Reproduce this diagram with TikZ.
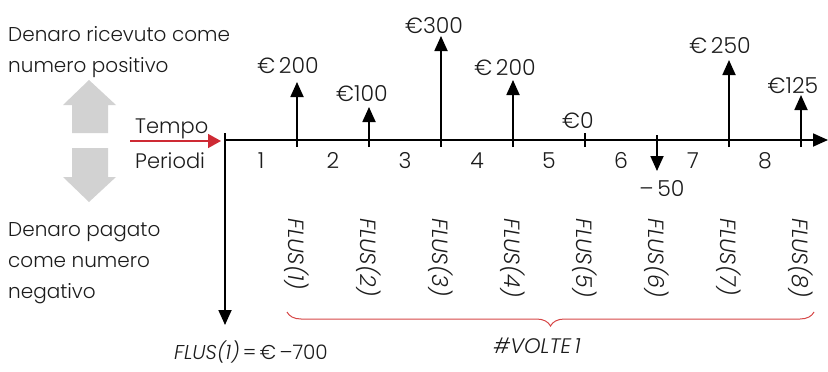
\documentclass[tikz,border=0pt]{standalone}
\usepackage{fontspec}
\setmainfont{Poppins}[UprightFont=* Light,ItalicFont=* Light Italic]
\usetikzlibrary{arrows.meta,positioning,decorations.pathreplacing}
\definecolor{inkblack}{RGB}{28,28,28}
\definecolor{timered}{RGB}{206,42,52}
\definecolor{signgray}{RGB}{210,210,210}
\definecolor{bracered}{RGB}{214,70,70}
\begin{document}
\begin{tikzpicture}[
  x=1pt,y=-1pt,
  font=\fontsize{22}{26}\selectfont,
  text=inkblack,
  axisline/.style={draw=black,line width=1.8pt},
  flow/.style={draw=black,line width=1.8pt,-{Triangle[length=15pt,width=13pt]}},
  timeflow/.style={draw=timered,line width=1.5pt,-{Triangle[length=13pt,width=14pt]}},
  amount/.style={anchor=base,inner sep=0pt},
  period/.style={anchor=base,inner sep=0pt},
  flus/.style={rotate=-90,anchor=west,inner sep=0pt,font=\fontsize{22}{24}\selectfont\itshape},
  sidetext/.style={anchor=north west,align=left,inner sep=0pt,font=\fontsize{20}{31}\selectfont},
  volte/.style={draw=bracered,line width=1pt,decorate,decoration={brace,mirror,amplitude=14pt}}
]
\useasboundingbox (0,0) rectangle (828,372);

% Sign legend on the left.
\node[sidetext] (received) at (8,26) {Denaro ricevuto come\\numero positivo};
\node[sidetext] (paid) at (8,222) {Denaro pagato\\come numero\\negativo};
\fill[signgray] (72,133) -- (72,105) -- (63,105) -- (89,80) -- (116,105) -- (108,105) -- (108,133) -- cycle;
\fill[signgray] (72,148) -- (72,177) -- (63,177) -- (89,202) -- (116,177) -- (108,177) -- (108,148) -- cycle;

% Time arrow.
\node[anchor=base west,inner sep=0pt,font=\fontsize{21}{24}\selectfont] (tempo) at (135,133) {Tempo};
\node[anchor=base west,inner sep=0pt,font=\fontsize{21}{24}\selectfont] (periodi) at (135,168) {Periodi};
\coordinate (tempoin) at (130,141);
\coordinate (tempoout) at (221,141);
\draw[timeflow] (tempoin) -- (tempoout);

% Axis and the initial outlay.
\coordinate (start) at (225,140);
\coordinate (axisend) at (828,140);
\coordinate (starttop) at (225,133);
\coordinate (outlay) at (225,325);
\draw[flow] (start) -- (axisend);
\draw[flow] (starttop) -- (outlay);

% Incoming flows.
\foreach \k/\tipy in {1/82,2/107,3/36,4/80,7/60,8/95}{
  \coordinate (foot\k) at (225+72*\k,147);
  \coordinate (tip\k) at (225+72*\k,\tipy);
  \draw[flow] (foot\k) -- (tip\k);
}
\coordinate (foot5) at (585,147);
\coordinate (tick5) at (585,133);
\draw[axisline] (foot5) -- (tick5);
\coordinate (foot6) at (657,135);
\coordinate (tip6) at (657,171);
\draw[flow] (foot6) -- (tip6);

% Amounts.
\node[amount] (amt1) at (288,73) {€\,200};
\node[amount] (amt2) at (362,101) {€100};
\node[amount] (amt3) at (434,33) {€300};
\node[amount] (amt4) at (505,75) {€\,200};
\node[amount] (amt5) at (578,128) {€0};
\node[amount] (amt6) at (662,196) {–\,50};
\node[amount] (amt7) at (720,53) {€\,250};
\node[amount] (amt8) at (793,93) {€125};

% Period numbers.
\foreach \k in {1,...,8}{
  \node[period] (per\k) at (189+72*\k,168) {\k};
}

% Cash flow names.
\foreach \k in {1,...,8}{
  \node[flus] (flus\k) at (225+72*\k,218) {FLUS(\k)};
}

% Brace over the repeated flows.
\coordinate (bracel) at (287,312);
\coordinate (bracer) at (814,312);
\draw[volte] (bracel) -- (bracer);
\node[font=\fontsize{21}{24}\selectfont\itshape,inner sep=0pt] (volteone) at (537,346) {\#VOLTE\,1};

% Initial value.
\node[inner sep=0pt,font=\fontsize{20}{24}\selectfont] (initial) at (251,352) {{\itshape FLUS(1)}\,=\,€\,–700};
\end{tikzpicture}
\end{document}
